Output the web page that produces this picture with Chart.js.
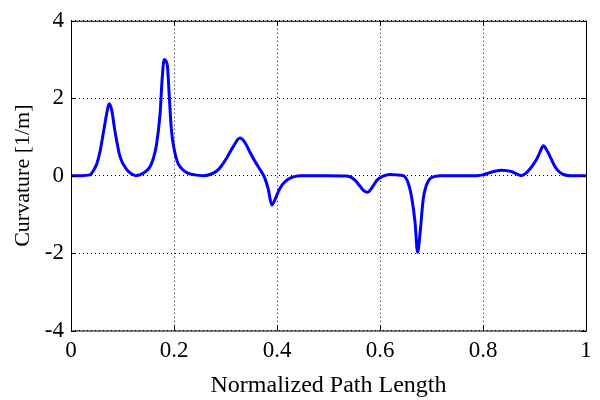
<!DOCTYPE html>
<html>
<head>
<meta charset="utf-8">
<script src="https://cdn.jsdelivr.net/npm/chart.js@4.4.0/dist/chart.umd.min.js"></script>
<style>
  html, body { margin: 0; padding: 0; background: #fff; }
  #wrap { width: 600px; height: 400px; }
</style>
</head>
<body>
<div id="wrap"><canvas id="myChart"></canvas></div>
<script>
// path position (normalized) and curvature
var pathLength = [0, 0.02, 0.037, 0.043, 0.05, 0.056, 0.064, 0.07, 0.074, 0.079, 0.085, 0.095, 0.108, 0.118, 0.126, 0.14, 0.153, 0.16, 0.166, 0.173, 0.177, 0.181, 0.187, 0.191, 0.195, 0.205, 0.215, 0.225, 0.24, 0.257, 0.27, 0.283, 0.292, 0.302, 0.315, 0.328, 0.338, 0.348, 0.358, 0.367, 0.372, 0.377, 0.383, 0.39, 0.396, 0.403, 0.41, 0.419, 0.43, 0.445, 0.5, 0.535, 0.545, 0.553, 0.561, 0.568, 0.576, 0.585, 0.594, 0.605, 0.619, 0.632, 0.645, 0.655, 0.662, 0.668, 0.673, 0.678, 0.684, 0.69, 0.697, 0.707, 0.717, 0.75, 0.788, 0.8, 0.814, 0.825, 0.836, 0.846, 0.856, 0.866, 0.874, 0.883, 0.891, 0.898, 0.904, 0.911, 0.917, 0.923, 0.93, 0.937, 0.943, 0.95, 0.956, 0.97, 1];
var curvature = [0, 0, 0.02, 0.12, 0.3, 0.6, 1.2, 1.65, 1.86, 1.7, 1.18, 0.5, 0.16, 0.04, 0, 0.06, 0.22, 0.45, 0.8, 1.6, 2.5, 3.0, 2.85, 2.0, 1.18, 0.42, 0.18, 0.08, 0.02, 0, 0.03, 0.12, 0.25, 0.45, 0.75, 0.97, 0.85, 0.59, 0.35, 0.16, 0.05, -0.09, -0.35, -0.76, -0.62, -0.4, -0.24, -0.12, -0.04, 0, 0, -0.01, -0.05, -0.14, -0.27, -0.38, -0.43, -0.3, -0.12, -0.02, 0.03, 0.02, 0, -0.2, -0.6, -1.2, -1.98, -1.45, -0.6, -0.25, -0.08, -0.02, 0, 0, 0, 0.02, 0.08, 0.12, 0.14, 0.13, 0.1, 0.04, 0, 0.06, 0.17, 0.3, 0.42, 0.62, 0.77, 0.68, 0.5, 0.3, 0.17, 0.08, 0.03, 0, 0];
var xTicks = [0, 0.2, 0.4, 0.6, 0.8, 1];
var yTicks = [-4, -2, 0, 2, 4];

var points = pathLength.map(function (x, i) { return { x: x, y: curvature[i] }; });
var serif = "'Liberation Serif', 'Times New Roman', serif";

// black frame round the plot area plus inward tick marks, matlab style
var framePlugin = {
  id: "frame",
  afterDraw: function (chart) {
    var ctx = chart.ctx, a = chart.chartArea;
    var xs = chart.scales.x, ys = chart.scales.y;
    ctx.save();
    ctx.strokeStyle = "#000";
    ctx.lineWidth = 1;
    ctx.setLineDash([]);
    ctx.strokeRect(a.left + 0.5, a.top + 0.5, a.right - a.left, a.bottom - a.top);
    ctx.beginPath();
    xTicks.forEach(function (t) {
      var px = Math.round(xs.getPixelForValue(t)) + 0.5;
      ctx.moveTo(px, a.bottom); ctx.lineTo(px, a.bottom - 5);
      ctx.moveTo(px, a.top); ctx.lineTo(px, a.top + 5);
    });
    yTicks.forEach(function (t) {
      var py = Math.round(ys.getPixelForValue(t)) + 0.5;
      ctx.moveTo(a.left, py); ctx.lineTo(a.left + 5, py);
      ctx.moveTo(a.right, py); ctx.lineTo(a.right - 5, py);
    });
    ctx.stroke();
    ctx.restore();
  }
};

new Chart(document.getElementById("myChart"), {
  type: "line",
  data: {
    datasets: [
      {
        data: points,
        borderColor: "#0000ff",
        borderWidth: 3,
        pointRadius: 0,
        cubicInterpolationMode: "monotone",
        fill: false,
      },
    ],
  },
  options: {
    responsive: true,
    maintainAspectRatio: false,
    animation: false,
    layout: { padding: { top: 15, right: 14, left: 0, bottom: 0 } },
    plugins: { legend: { display: false }, tooltip: { enabled: false } },
    scales: {
      x: {
        type: "linear",
        min: 0,
        max: 1,
        afterBuildTicks: function (s) { s.ticks = xTicks.map(function (v) { return { value: v }; }); },
        ticks: { color: "#000", font: { family: serif, size: 23 }, padding: 7, maxRotation: 0,
          callback: function (v) { return String(v); } },
        grid: { color: "#000", lineWidth: 1, drawTicks: false },
        border: { display: false, dash: [1, 3] },
        title: { display: true, text: "Normalized Path Length", color: "#000",
          font: { family: serif, size: 24 }, padding: { top: 0, bottom: 0 } },
        afterFit: function (s) { s.height = 69.5; },
      },
      y: {
        min: -4,
        max: 4,
        afterBuildTicks: function (s) { s.ticks = yTicks.map(function (v) { return { value: v }; }); },
        ticks: { color: "#000", font: { family: serif, size: 23 }, padding: 7 },
        grid: { color: "#000", lineWidth: 1, drawTicks: false },
        border: { display: false, dash: [1, 3] },
        title: { display: true, text: "Curvature [1/m]", color: "#000",
          font: { family: serif, size: 22 }, padding: { top: 10, bottom: 0 } },
        afterFit: function (s) { s.width = 71; },
      },
    },
  },
  plugins: [framePlugin],
});
</script>
</body>
</html>
